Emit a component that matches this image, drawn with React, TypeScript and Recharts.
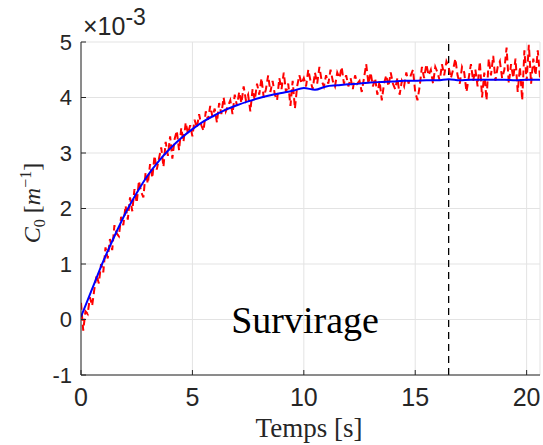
import React from "react";
import { LineChart, Line, XAxis, YAxis, CartesianGrid, ReferenceLine } from "recharts";

// Time axis ticks (s) and C0 ticks (x1e-3 m^-1)
const xTicks = [0, 5, 10, 15, 20];
const yTicks = [-1, 0, 1, 2, 3, 4, 5];
const transitionTime = 16.5;

// Smoothed (blue) curve: times and values (x1e-3)
const blueTime = [0, 0.5, 1, 1.5, 2, 2.5, 3, 3.5, 4, 4.5, 5, 5.5, 6, 6.5, 7, 7.5, 8, 8.5, 9, 9.5, 10, 10.5, 11, 11.5, 12, 12.5, 13, 13.5, 14, 14.5, 15, 15.5, 16, 16.5, 17, 17.5, 18, 18.5, 19, 19.5, 20, 20.6];
const blueC0 = [0.05, 0.55, 1.05, 1.5, 1.92, 2.28, 2.6, 2.86, 3.08, 3.27, 3.43, 3.57, 3.68, 3.78, 3.86, 3.93, 3.99, 4.04, 4.08, 4.12, 4.17, 4.14, 4.2, 4.22, 4.24, 4.25, 4.27, 4.28, 4.29, 4.3, 4.3, 4.31, 4.31, 4.33, 4.31, 4.32, 4.32, 4.32, 4.32, 4.31, 4.32, 4.32];

// Raw (red) measurement, sampled every 0.1 s from 0 s (x1e-3)
const SAMPLE_STEP = 0.1;
const redC0 = [
  0.30, -0.20, 0.15, 0.10, 0.40, 0.25, 0.55, 0.80, 0.65, 1.00,
  0.85, 1.30, 1.10, 1.45, 1.25, 1.70, 1.55, 1.50, 1.85, 1.70,
  2.05, 1.80, 2.20, 1.95, 2.35, 2.10, 2.50, 2.30, 2.20, 2.65,
  2.45, 2.80, 2.55, 2.95, 2.70, 2.90, 3.10, 2.75, 3.20, 2.95,
  3.30, 2.90, 3.25, 3.40, 3.05, 3.45, 3.20, 3.55, 3.35, 3.50,
  3.30, 3.60, 3.45, 3.70, 3.50, 3.40, 3.75, 3.60, 3.85, 3.65,
  3.80, 3.55, 3.90, 3.70, 4.00, 3.75, 3.85, 3.95, 3.70, 4.05,
  3.85, 4.10, 3.90, 4.20, 3.95, 4.05, 3.75, 4.15, 3.95, 4.25,
  4.05, 4.35, 4.00, 4.15, 4.40, 4.10, 4.30, 4.05, 3.95, 4.35,
  4.15, 4.45, 4.10, 4.25, 3.85, 4.30, 3.80, 4.20, 4.40, 4.25,
  4.35, 4.20, 4.50, 4.30, 4.15, 4.45, 4.25, 4.55, 4.30, 4.20,
  4.40, 4.25, 4.50, 4.30, 4.20, 4.45, 4.35, 4.55, 4.25, 4.40,
  4.20, 4.35, 4.15, 4.40, 4.25, 4.30, 4.10, 4.35, 4.60, 4.25,
  4.45, 4.20, 4.35, 4.05, 4.30, 3.95, 4.25, 4.40, 4.20, 4.45,
  4.25, 4.15, 4.35, 4.05, 4.30, 4.20, 4.45, 4.25, 4.40, 4.50,
  4.10, 3.95, 4.20, 4.55, 4.35, 4.60, 4.40, 4.50, 4.25, 4.55,
  4.45, 4.30, 4.60, 4.40, 4.65, 4.55, 4.35, 4.50, 4.70, 4.40,
  4.25, 4.55, 4.45, 4.10, 4.35, 4.60, 4.30, 4.50, 4.20, 4.65,
  4.00, 4.45, 3.95, 4.70, 4.40, 4.75, 4.30, 4.55, 4.65, 4.35,
  4.50, 4.90, 4.25, 4.60, 4.35, 4.70, 4.10, 4.55, 3.95, 4.85,
  4.30, 4.95, 4.25, 4.70, 4.40, 4.85, 4.35,
];

const blueData = blueTime.map((t, i) => ({ t, v: blueC0[i] }));
const redData = redC0.map((v, i) => ({ t: Math.round(i * SAMPLE_STEP * 10) / 10, v }));

const W = 543;
const H = 445;
const sans = "'Liberation Sans', Arial, sans-serif";
const xTickFont = { fontFamily: sans, fontSize: 25, fill: "#262626" };
const yTickFont = { fontFamily: sans, fontSize: 22, fill: "#262626" };
const serif = "'Liberation Serif', 'Times New Roman', serif";

export default function App() {
  return (
    <div style={{ position: "absolute", left: 0, top: 0, width: W, height: H, background: "#fff" }}>
      <LineChart width={W} height={H} margin={{ top: 42, right: 3, bottom: 0, left: 0 }}>
        <CartesianGrid stroke="#e3e3e3" strokeWidth={1} />
        <XAxis
          type="number"
          dataKey="t"
          domain={[0, 20.6]}
          ticks={xTicks}
          allowDataOverflow
          height={70}
          stroke="#262626"
          tickSize={-5}
          tickMargin={18}
          tick={xTickFont}
        />
        <YAxis
          type="number"
          dataKey="v"
          domain={[-1, 5]}
          ticks={yTicks}
          allowDataOverflow
          width={81}
          stroke="#262626"
          tickSize={-5}
          tickMargin={14}
          tick={yTickFont}
        />
        <ReferenceLine x={transitionTime} stroke="#000" strokeWidth={1.3} strokeDasharray="7 5" />
        <Line data={redData} dataKey="v" type="linear" stroke="#ff0000" strokeWidth={2} strokeDasharray="7 4" dot={false} isAnimationActive={false} />
        <Line data={blueData} dataKey="v" type="monotone" stroke="#0000ff" strokeWidth={2} dot={false} isAnimationActive={false} />
      </LineChart>
      <svg width={W} height={H} style={{ position: "absolute", left: 0, top: 0, pointerEvents: "none" }}>
        <text x={83} y={35} fontFamily={sans} fontSize={25} fill="#262626">
          ×10<tspan dy={-10} fontSize={23}>-3</tspan>
        </text>
        <text x={305} y={333} textAnchor="middle" fontFamily={serif} fontSize={38} fill="#000">Survirage</text>
        <text x={309} y={437} textAnchor="middle" fontFamily={serif} fontSize={27} fill="#262626">Temps [s]</text>
        <text transform="translate(40,203) rotate(-90)" textAnchor="middle" fontFamily={serif} fontSize={24} fill="#262626">
          <tspan fontStyle="italic">C</tspan>
          <tspan dy={5} fontSize={16}>0</tspan>
          <tspan dy={-5}> [</tspan>
          <tspan fontStyle="italic">m</tspan>
          <tspan dy={-9} fontSize={16}>−1</tspan>
          <tspan dy={9}>]</tspan>
        </text>
      </svg>
    </div>
  );
}
